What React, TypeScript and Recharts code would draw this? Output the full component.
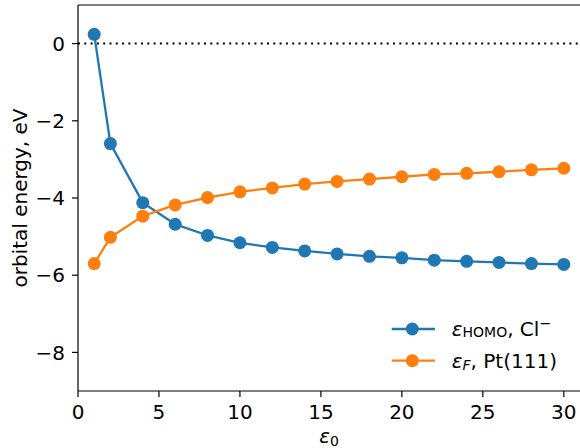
import React from 'react';
import { LineChart, Line, XAxis, YAxis, ReferenceLine, Legend, Label } from 'recharts';

const epsilon0 = [1, 2, 4, 6, 8, 10, 12, 14, 16, 18, 20, 22, 24, 26, 28, 30];
const homoCl = [0.24, -2.59, -4.12, -4.68, -4.97, -5.16, -5.28, -5.37, -5.45, -5.51, -5.55, -5.61, -5.64, -5.67, -5.7, -5.72];
const fermiPt = [-5.7, -5.02, -4.47, -4.18, -3.99, -3.84, -3.74, -3.64, -3.57, -3.51, -3.45, -3.39, -3.36, -3.32, -3.27, -3.23];
const xTicks = [0, 5, 10, 15, 20, 25, 30];
const yTicks = [-8, -6, -4, -2, 0];

const BLUE = '#1f77b4';
const ORANGE = '#ff7f0e';
const FONT = 'DejaVu Sans';
const FS = 20;
const SUB = 14;

const data = epsilon0.map((e, i) => ({ eps0: e, homo: homoCl[i], fermi: fermiPt[i] }));

const fmt = (v: number) => String(v).replace('-', '\u2212');

const renderLegend = () => {
  const rows = [
    { color: BLUE, kind: 'homo' },
    { color: ORANGE, kind: 'fermi' },
  ];
  return (
    <svg width={195} height={70} style={{ display: 'block', overflow: 'visible' }}>
      {rows.map((r, i) => {
        const y = 19 + i * 31.7;
        return (
          <g key={r.kind}>
            <line x1={6.7} x2={50} y1={y} y2={y} stroke={r.color} strokeWidth={2.3} />
            <circle cx={27.3} cy={y} r={6.5} fill={r.color} />
            <text x={66.7} y={y + 7} fontFamily={FONT} fontSize={FS} fill="#000">
              <tspan fontStyle="italic">ε</tspan>
              {r.kind === 'homo' ? (
                <>
                  <tspan fontSize={SUB} dy={1}>HOMO</tspan>
                  <tspan dy={-1}>, Cl</tspan>
                  <tspan fontSize={SUB} dy={-8}>{'\u2212'}</tspan>
                </>
              ) : (
                <>
                  <tspan fontSize={SUB} fontStyle="italic" dy={2}>F</tspan>
                  <tspan dy={-2}>, Pt(111)</tspan>
                </>
              )}
            </text>
          </g>
        );
      })}
    </svg>
  );
};

const XLabel = (props: any) => {
  const vb = props.viewBox;
  const cx = vb.x + vb.width / 2;
  const y = vb.y + 52;
  return (
    <text x={cx} y={y} textAnchor="middle" fontFamily={FONT} fontSize={FS} fill="#000">
      <tspan fontStyle="italic">ε</tspan>
      <tspan fontSize={SUB} dy={3}>0</tspan>
    </text>
  );
};

const YLabel = (props: any) => {
  const vb = props.viewBox;
  const x = vb.x + 27;
  const y = vb.y + vb.height / 2;
  return (
    <text x={x} y={y} transform={`rotate(-90, ${x}, ${y})`} textAnchor="middle" fontFamily={FONT} fontSize={FS} fill="#000">
      orbital energy, eV
    </text>
  );
};

export default function App() {
  return (
    <div style={{ position: 'absolute', left: 0, top: 0, width: 580, height: 448, background: '#fff' }}>
      <LineChart width={580} height={448} data={data} margin={{ top: 5, right: 0, bottom: 0, left: 0 }}>
        <XAxis
          type="number"
          dataKey="eps0"
          domain={[0, 31]}
          ticks={xTicks}
          interval={0}
          allowDataOverflow
          height={57}
          tickSize={6}
          tickMargin={8}
          axisLine={{ stroke: '#000', strokeWidth: 1.2 }}
          tickLine={{ stroke: '#000', strokeWidth: 1.2 }}
          tick={{ fill: '#000', fontSize: FS, fontFamily: FONT }}
        >
          <Label content={XLabel} />
        </XAxis>
        <YAxis
          type="number"
          domain={[-9, 1]}
          ticks={yTicks}
          interval={0}
          allowDataOverflow
          width={78}
          tickSize={6}
          tickMargin={7}
          tickFormatter={fmt}
          axisLine={{ stroke: '#000', strokeWidth: 1.2 }}
          tickLine={{ stroke: '#000', strokeWidth: 1.2 }}
          tick={{ fill: '#000', fontSize: FS, fontFamily: FONT }}
        >
          <Label content={YLabel} />
        </YAxis>
        <ReferenceLine y={1} stroke="#000" strokeWidth={1.2} />
        <ReferenceLine y={0} stroke="#000" strokeWidth={2} strokeDasharray="2 4.3" />
        <Line
          type="linear"
          dataKey="homo"
          stroke={BLUE}
          strokeWidth={2.3}
          dot={{ r: 6.5, fill: BLUE, stroke: BLUE, strokeWidth: 0 }}
          activeDot={false}
          isAnimationActive={false}
        />
        <Line
          type="linear"
          dataKey="fermi"
          stroke={ORANGE}
          strokeWidth={2.3}
          dot={{ r: 6.5, fill: ORANGE, stroke: ORANGE, strokeWidth: 0 }}
          activeDot={false}
          isAnimationActive={false}
        />
        <Legend
          layout="horizontal"
          verticalAlign="middle"
          align="center"
          content={renderLegend}
          wrapperStyle={{ position: 'absolute', left: 385, top: 310, width: 195, height: 70 }}
        />
      </LineChart>
    </div>
  );
}
